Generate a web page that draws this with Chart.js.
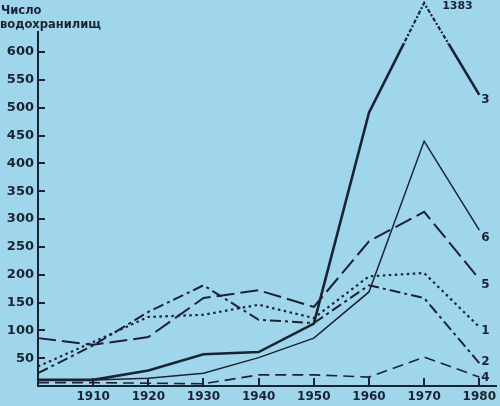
<!DOCTYPE html>
<html lang="ru">
<head>
<meta charset="utf-8">
<title>Число водохранилищ</title>
<script src="https://cdn.jsdelivr.net/npm/chart.js@4.4.1/dist/chart.umd.min.js"></script>
<style>
  html, body { margin: 0; padding: 0; background: #a0d6ec; }
  #wrap { position: relative; width: 500px; height: 406px; }
  canvas { display: block; }
</style>
</head>
<body>
<div id="wrap"><canvas id="chart" width="500" height="406"></canvas></div>
<script>
// data
const years  = [1900, 1910, 1920, 1930, 1940, 1950, 1960, 1970, 1980];
const xTicks = [1910, 1920, 1930, 1940, 1950, 1960, 1970, 1980];
const yTicks = [50, 100, 150, 200, 250, 300, 350, 400, 450, 500, 550, 600];

const s1 = [35, 79, 124, 128, 146, 122, 197, 203, 106];   // точки
const s2 = [23, 73, 133, 181, 119, 113, 181, 158, 41];    // штрих-пунктир
const s3 = [11, 11, 28, 57, 61, 112, 491, 688, 523];      // жирная; 1970 нарисовано у верха (реально 1383)
const s4 = [6, 6, 5, 4, 20, 20, 16, 52, 16];              // короткий штрих
const s5 = [86, 74, 88, 158, 172, 142, 260, 313, 192];    // длинный штрих
const s6 = [11, 11, 14, 23, 51, 86, 169, 440, 280];       // тонкая

const names = ["1", "2", "3", "4", "5", "6"];
const peakLabel = "1383";
const titleLines = ["Число", "водохранилищ"];

// styles
const INK = "#1b2333";
const BG = "#a0d6ec";
const styles = [
  { dash: [2.5, 3.5],      width: 2.2, dy: 4 },
  { dash: [11, 4, 3, 4],   width: 2.0, dy: -1 },
  { dash: [],              width: 2.6, dy: 5 },
  { dash: [11, 6],         width: 1.6, dy: 1 },
  { dash: [18, 6],         width: 2.0, dy: 6 },
  { dash: [],              width: 1.5, dy: 8 }
];
const series = [s1, s2, s3, s4, s5, s6];

const toPts = (arr) => years.map((x, i) => ({ x, y: arr[i] }));

// inward ticks, break on series 3, texts
const decor = {
  id: "decor",
  afterDatasetsDraw(chart) {
    const { ctx, chartArea: a, scales: { x, y } } = chart;
    ctx.save();
    ctx.strokeStyle = INK;
    ctx.lineWidth = 2;
    ctx.setLineDash([]);
    yTicks.forEach(v => {
      const py = Math.round(y.getPixelForValue(v));
      ctx.beginPath(); ctx.moveTo(a.left, py); ctx.lineTo(a.left + 7, py); ctx.stroke();
    });
    xTicks.forEach(v => {
      const px = Math.round(x.getPixelForValue(v));
      ctx.beginPath(); ctx.moveTo(px, a.bottom); ctx.lineTo(px, a.bottom - 8); ctx.stroke();
    });

    // разрыв шкалы на линии 3: верхняя часть штрих-пунктиром
    const pts = chart.getDatasetMeta(2).data;
    const i60 = years.indexOf(1960), i70 = years.indexOf(1970), i80 = years.indexOf(1980);
    const yb = y.getPixelForValue(615);
    const x0 = pts[i60].x, x1 = pts[i80].x + 4;
    ctx.beginPath();
    ctx.rect(x0, 0, x1 - x0, yb);
    ctx.clip();
    ctx.fillStyle = BG;
    ctx.fillRect(x0, 0, x1 - x0, yb);
    ctx.beginPath();
    ctx.moveTo(pts[i60].x, pts[i60].y);
    ctx.lineTo(pts[i70].x, pts[i70].y);
    ctx.lineTo(pts[i80].x, pts[i80].y);
    ctx.lineWidth = 2.2;
    ctx.setLineDash([4, 2, 2, 2]);
    ctx.stroke();
    ctx.restore();

    ctx.save();
    ctx.fillStyle = INK;
    ctx.font = "bold 11px 'DejaVu Sans'";
    ctx.textAlign = "left";
    ctx.textBaseline = "top";
    ctx.fillText(peakLabel, pts[i70].x + 18, 1);

    ctx.font = "bold 12px 'DejaVu Sans'";
    ctx.textBaseline = "middle";
    series.forEach((s, i) => {
      const p = chart.getDatasetMeta(i).data[years.length - 1];
      ctx.fillText(names[i], p.x + 2, p.y + styles[i].dy);
    });

    ctx.font = "bold 11.5px 'DejaVu Sans'";
    ctx.textBaseline = "alphabetic";
    ctx.fillText(titleLines[0], 1, 14);
    ctx.fillText(titleLines[1], 0, 28);
    ctx.restore();
  }
};

new Chart(document.getElementById("chart"), {
  type: "line",
  data: {
    datasets: series.map((s, i) => ({
      label: names[i],
      data: toPts(s),
      borderColor: INK,
      borderWidth: styles[i].width,
      borderDash: styles[i].dash,
      borderCapStyle: "butt",
      borderJoinStyle: "miter",
      pointRadius: 0,
      tension: 0,
      fill: false,
      clip: false
    }))
  },
  options: {
    responsive: false,
    animation: false,
    layout: { padding: { top: 32, left: 0, right: 0, bottom: 0 } },
    plugins: { legend: { display: false }, tooltip: { enabled: false } },
    scales: {
      x: {
        type: "linear",
        min: 1900,
        max: 1983.2,
        afterBuildTicks: s => { s.ticks = xTicks.map(v => ({ value: v })); },
        afterFit: s => { s.height = 20; },
        grid: { display: false, drawTicks: false },
        border: { display: true, color: INK, width: 2 },
        ticks: {
          color: INK,
          font: { family: "DejaVu Sans", size: 12, weight: "bold" },
          padding: 4,
          maxRotation: 0,
          autoSkip: false,
          callback: v => String(v)
        }
      },
      y: {
        min: 0,
        max: 636,
        afterBuildTicks: s => { s.ticks = yTicks.map(v => ({ value: v })); },
        afterFit: s => { s.width = 38; },
        grid: { display: false, drawTicks: false },
        border: { display: true, color: INK, width: 2 },
        ticks: {
          color: INK,
          font: { family: "DejaVu Sans", size: 13, weight: "bold" },
          padding: 4,
          autoSkip: false
        }
      }
    }
  },
  plugins: [decor]
});
</script>
</body>
</html>
